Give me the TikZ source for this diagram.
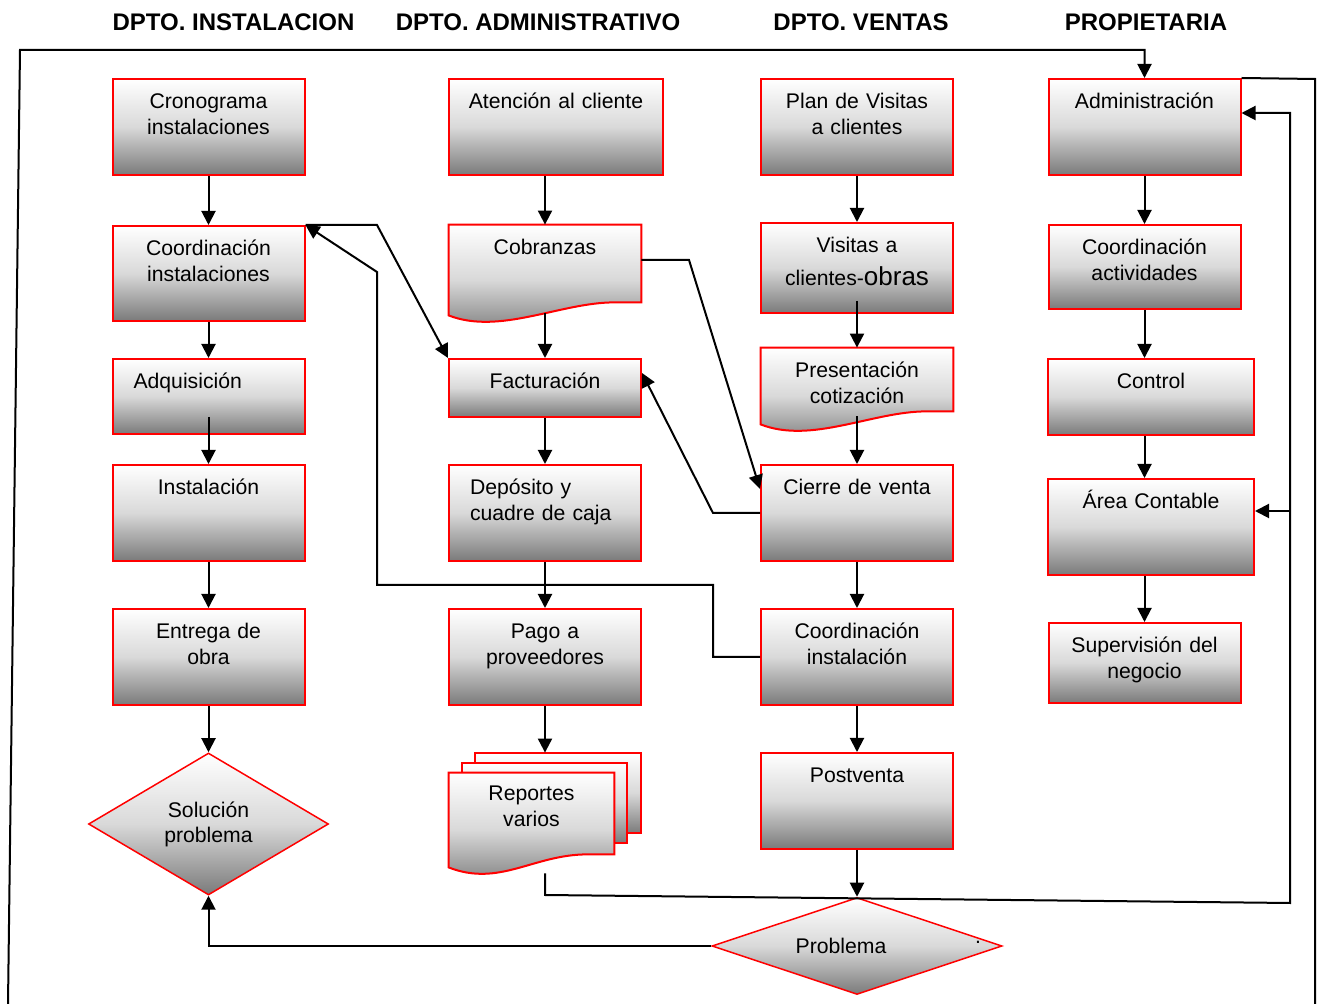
\documentclass[tikz,border=0pt]{standalone}
\usepackage{fontspec}
\setmainfont{Liberation Sans}
\usetikzlibrary{arrows.meta}
\usetikzlibrary{shapes.geometric}
\definecolor{boxred}{RGB}{255,0,0}
\pgfdeclarelayer{bg}
\pgfsetlayers{bg,main}
\newcommand\docpath[1]{(#1.north west) -- (#1.north east) -- ([shift={(0,19)}]#1.south east) -- ([shift={(-27,19)}]#1.south east) .. controls ([shift={(-81,19)}]#1.south east) and ([shift={(51,-14)}]#1.south west) .. ([shift={(0,6)}]#1.south west) -- cycle}

\begin{document}
\begin{tikzpicture}[x=0.5pt,y=0.5pt,
  redshade/.style={draw=boxred, line width=1pt, top color=white, bottom color=black!52, middle color=black!15},
  txt/.style={font=\fontsize{10.6}{12.6}\selectfont, align=center, inner xsep=4pt, inner ysep=0pt, text width=#1, text height=15pt},
  txt/.default=88pt,
  proc/.style={txt=#1, rectangle, redshade},
  proc/.default=88pt,
  lbox/.style={proc=75pt, inner xsep=10.5pt, align=left},
  dec/.style={diamond, redshade, line width=0.75pt, inner sep=0pt, align=center, font=\fontsize{10.6}{12.6}\selectfont},
  head/.style={font=\bfseries\fontsize{12}{14}\selectfont, inner sep=0pt},
  arr/.style={-{Triangle[length=7pt,width=7pt]}, line width=1pt},
  link/.style={line width=1pt}]
\useasboundingbox (0,0) rectangle (1318,-1004);

\node[head] (hinst) at (233.5,-22) {DPTO. INSTALACION};
\node[head] (hadm) at (538,-22) {DPTO. ADMINISTRATIVO};
\node[head] (hvent) at (861,-22) {DPTO. VENTAS};
\node[head] (hprop) at (1146,-22) {PROPIETARIA};

% instalacion
\node[proc, text depth=33pt] (cron) at (208.5,-127) {Cronograma\\instalaciones};
\node[proc, text depth=32.5pt] (coordi) at (208.5,-273.5) {Coordinación\\instalaciones};
\node[lbox, text depth=22.5pt] (adq) at (208.5,-396.5) {Adquisición};
\node[proc, text depth=33pt] (inst) at (208.5,-513) {Instalación};
\node[proc, text depth=33pt] (entrega) at (208.5,-657) {Entrega de\\obra};
\node[dec, aspect=1.69, minimum width=120pt, minimum height=71pt] (sol) at (208.5,-824) {Solución\\problema};

% administrativo
\node[proc=99pt, text depth=33pt] (aten) at (556,-127) {Atención al cliente};
\node[txt, text depth=33pt] (cobr) at (545,-273) {Cobranzas};
\node[proc, text depth=14pt] (fact) at (545,-388) {Facturación};
\node[lbox, text depth=33pt] (depos) at (545,-513) {Depósito y\\cuadre de caja};
\node[proc, text depth=33pt] (pago) at (545,-657) {Pago a\\proveedores};
\node[txt=74.5pt, text height=14pt, text depth=36pt] (rep) at (531.5,-823) {Reportes\\varios};
\coordinate (rback) at ([shift={(26,20)}]rep.north west);

% ventas
\node[proc, text depth=33pt] (plan) at (857,-127) {Plan de Visitas\\a clientes};
\node[proc, text depth=30pt] (visit) at (857,-268) {Visitas a\\[3.5pt]clientes-{\fontsize{13}{15}\selectfont obras}};
\node[txt, text depth=26pt] (present) at (857,-389) {Presentación\\cotización};
\node[proc, text depth=33pt] (cierre) at (857,-513) {Cierre de venta};
\node[proc, text depth=33pt] (coordv) at (857,-657) {Coordinación\\instalación};
\node[proc, text depth=33pt] (post) at (857,-801) {Postventa};
\node[dec, aspect=3, minimum width=145pt, minimum height=48.5pt] (prob) at (857,-946) {Problema\hspace*{16pt}};
\node[inner sep=0pt, font=\fontsize{10.6}{12}\selectfont] (pdot) at (978,-942) {.};

% propietaria
\node[proc, text depth=33pt] (admin) at (1144.5,-127) {Administración};
\node[proc, text depth=27pt] (coorda) at (1144.5,-267) {Coordinación\\actividades};
\node[proc=95pt, text depth=23pt] (control) at (1151,-397) {Control};
\node[proc=95pt, text depth=33pt] (area) at (1151,-527) {Área Contable};
\node[proc, text depth=25pt] (superv) at (1144.5,-663) {Supervisión del\\negocio};

\begin{pgfonlayer}{bg}
\path[redshade] \docpath{cobr};
\path[redshade] \docpath{present};
\path[redshade] (rback) rectangle ([shift={(27,40)}]rep.south east);
\path[redshade] ([shift={(13,10)}]rep.north west) rectangle ([shift={(13,30)}]rep.south east);
\path[redshade] \docpath{rep};
\end{pgfonlayer}

\draw[arr] (cron.south) -- (coordi.north);
\draw[arr] (coordi.south) -- (adq.north);
\draw[arr] ([yshift=9pt]adq.south) -- (inst.north);
\draw[arr] (inst.south) -- (entrega.north);
\draw[arr] (entrega.south) -- (sol.north);

\draw[arr] (aten.south -| cobr.north) -- (cobr.north);
\draw[arr] ([yshift=4pt]cobr.south) -- (fact.north);
\draw[arr] (fact.south) -- (depos.north);
\draw[arr] (depos.south) -- (pago.north);
\draw[arr] (pago.south) -- (pago.south |- rback);

\draw[arr] (plan.south) -- (visit.north);
\draw[arr] ([yshift=6.5pt]visit.south) -- (present.north);
\draw[arr] ([yshift=7pt]present.south) -- (cierre.north);
\draw[arr] (cierre.south) -- (coordv.north);
\draw[arr] (coordv.south) -- (post.north);
\draw[arr] (post.south) -- (prob.north);

\draw[arr] (admin.south) -- (coorda.north);
\draw[arr] (coorda.south) -- (coorda.south |- control.north);
\draw[arr] (control.south -| coorda.south) -- (coorda.south |- area.north);
\draw[arr] (area.south -| superv.north) -- (superv.north);

\draw[arr] (coordi.north east) -- (377,-225) -- (fact.north west);
\draw[arr] (coordv.west) -- (713,-657) -- (713,-585) -- (377,-585) -- (377,-272) -- (coordi.north east);
\draw[arr] ([yshift=6.5pt]cobr.east) -- (689,-260) -- ([yshift=-12.5pt]cierre.north west);
\draw[arr] (cierre.west) -- (713,-513) -- ([yshift=7.5pt]fact.east);
\draw[arr] (prob.west) -- (sol.south |- prob.west) -- (sol.south);
\draw[arr] (rep.south -| pago.south) -- (545,-895) -- (1290,-903) -- (1290,-113) -- ([yshift=7pt]admin.east);
\draw[arr] (1290,-511) -- ([yshift=8pt]area.east);

\coordinate (looptop) at (20,-50);
\draw[arr] (8,-1004) -- (looptop) -- (admin.north |- looptop) -- (admin.north);
\draw[link] (admin.north east) -- (1315,-79) -- (1315,-1004);
\end{tikzpicture}
\end{document}
